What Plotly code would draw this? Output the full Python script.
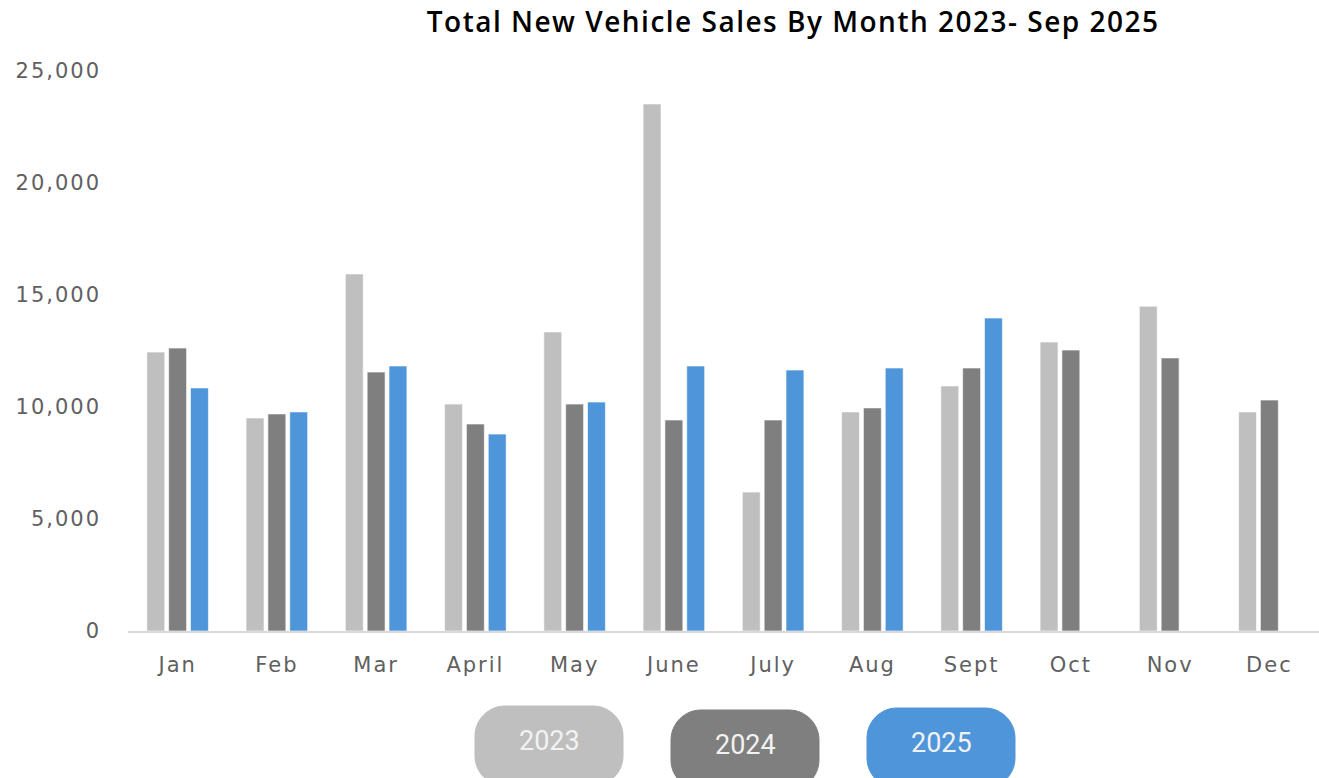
import plotly.graph_objects as go

months = ["Jan", "Feb", "Mar", "April", "May", "June", "July", "Aug", "Sept", "Oct", "Nov", "Dec"]
sales_2023 = [12450, 9510, 15940, 10130, 13350, 23530, 6200, 9780, 10940, 12900, 14500, 9780]
sales_2024 = [12630, 9690, 11560, 9240, 10130, 9420, 9420, 9960, 11740, 12540, 12190, 10310]
sales_2025 = [10850, 9780, 11830, 8790, 10220, 11830, 11650, 11740, 13970, None, None, None]
series_names = ["2023", "2024", "2025"]
series_colors = ["#BFBFBF", "#7F7F7F", "#4E95D9"]
y_ticks = [0, 5000, 10000, 15000, 20000, 25000]

W, H = 1319, 778
# plot area in page pixel coords
L, R, T, B = 128, 0, 71, 147
PW, PH = W - L - R, H - T - B

def px(x):
    return (x - L) / PW

def py(y):
    return (H - B - y) / PH

fig = go.Figure()
for name, vals, col in zip(series_names, [sales_2023, sales_2024, sales_2025], series_colors):
    fig.add_trace(go.Bar(
        x=months, y=vals, name=name,
        marker=dict(color=col, line=dict(color="rgba(255,255,255,0.6)", width=1)),
        showlegend=False,
    ))

# pill legend
pill_centers = [549, 745, 941]
pill_tops = [706, 710, 708]
pill_w, pill_h, rad = 148, 80, 30
shapes = []
annotations = []
for cx, top, name, col in zip(pill_centers, pill_tops, series_names, series_colors):
    x0, x1 = cx - pill_w / 2, cx + pill_w / 2
    y0, y1 = top, top + pill_h
    k = 0.55
    pts = [
        ("M", [(x0 + rad, y0)]),
        ("L", [(x1 - rad, y0)]),
        ("C", [(x1 - rad + rad * k, y0), (x1, y0 + rad - rad * k), (x1, y0 + rad)]),
        ("L", [(x1, y1 - rad)]),
        ("C", [(x1, y1 - rad + rad * k), (x1 - rad + rad * k, y1), (x1 - rad, y1)]),
        ("L", [(x0 + rad, y1)]),
        ("C", [(x0 + rad - rad * k, y1), (x0, y1 - rad + rad * k), (x0, y1 - rad)]),
        ("L", [(x0, y0 + rad)]),
        ("C", [(x0, y0 + rad - rad * k), (x0 + rad - rad * k, y0), (x0 + rad, y0)]),
    ]
    path = ""
    for cmd, ps in pts:
        path += cmd + " " + " ".join(f"{px(a):.5f},{py(b):.5f}" for a, b in ps) + " "
    path += "Z"
    shapes.append(dict(type="path", xref="paper", yref="paper", path=path,
                       fillcolor=col, line=dict(color=col, width=1), layer="above"))
    annotations.append(dict(x=px(cx), y=py(top + 35), xref="paper", yref="paper",
                            text=name, showarrow=False, xanchor="center", yanchor="middle",
                            font=dict(family="Roboto", size=27, color="#F2F2F2")))

annotations.append(dict(x=px(793), y=py(21), xref="paper", yref="paper",
                        text="Total New Vehicle Sales By Month 2023- Sep 2025",
                        showarrow=False, xanchor="center", yanchor="middle",
                        font=dict(family="Open Sans", size=28, color="#000000", weight=600)))

tick_font = dict(family="DejaVu Sans", size=21, color="#606060")
fig.update_layout(
    width=W, height=H,
    margin=dict(l=L, r=R, t=T, b=B, autoexpand=False),
    paper_bgcolor="white", plot_bgcolor="white",
    barmode="group", bargap=0.34, bargroupgap=0.18,
    shapes=shapes, annotations=annotations,
    xaxis=dict(showline=True, linecolor="#D9D9D9", linewidth=1.5, ticks="",
               tickfont=tick_font, showgrid=False, ticklabelstandoff=14),
    yaxis=dict(range=[0, 25000], tickvals=y_ticks, tickformat=",",
               showgrid=False, zeroline=False, showline=False, ticks="",
               tickfont=tick_font, ticklabelstandoff=26),
)

post = """
document.body.style.margin = '0';
function spaceText() {
  document.querySelectorAll('.xtick text, .ytick text').forEach(function(t){ t.style.letterSpacing = '2px'; });
  document.querySelectorAll('.annotation-text').forEach(function(t){
    if (t.textContent.indexOf('Total') === 0) { t.style.letterSpacing = '1.5px'; }
  });
}
spaceText();
"""

fig.write_html("out.html", post_script=post, config={"displayModeBar": False})
